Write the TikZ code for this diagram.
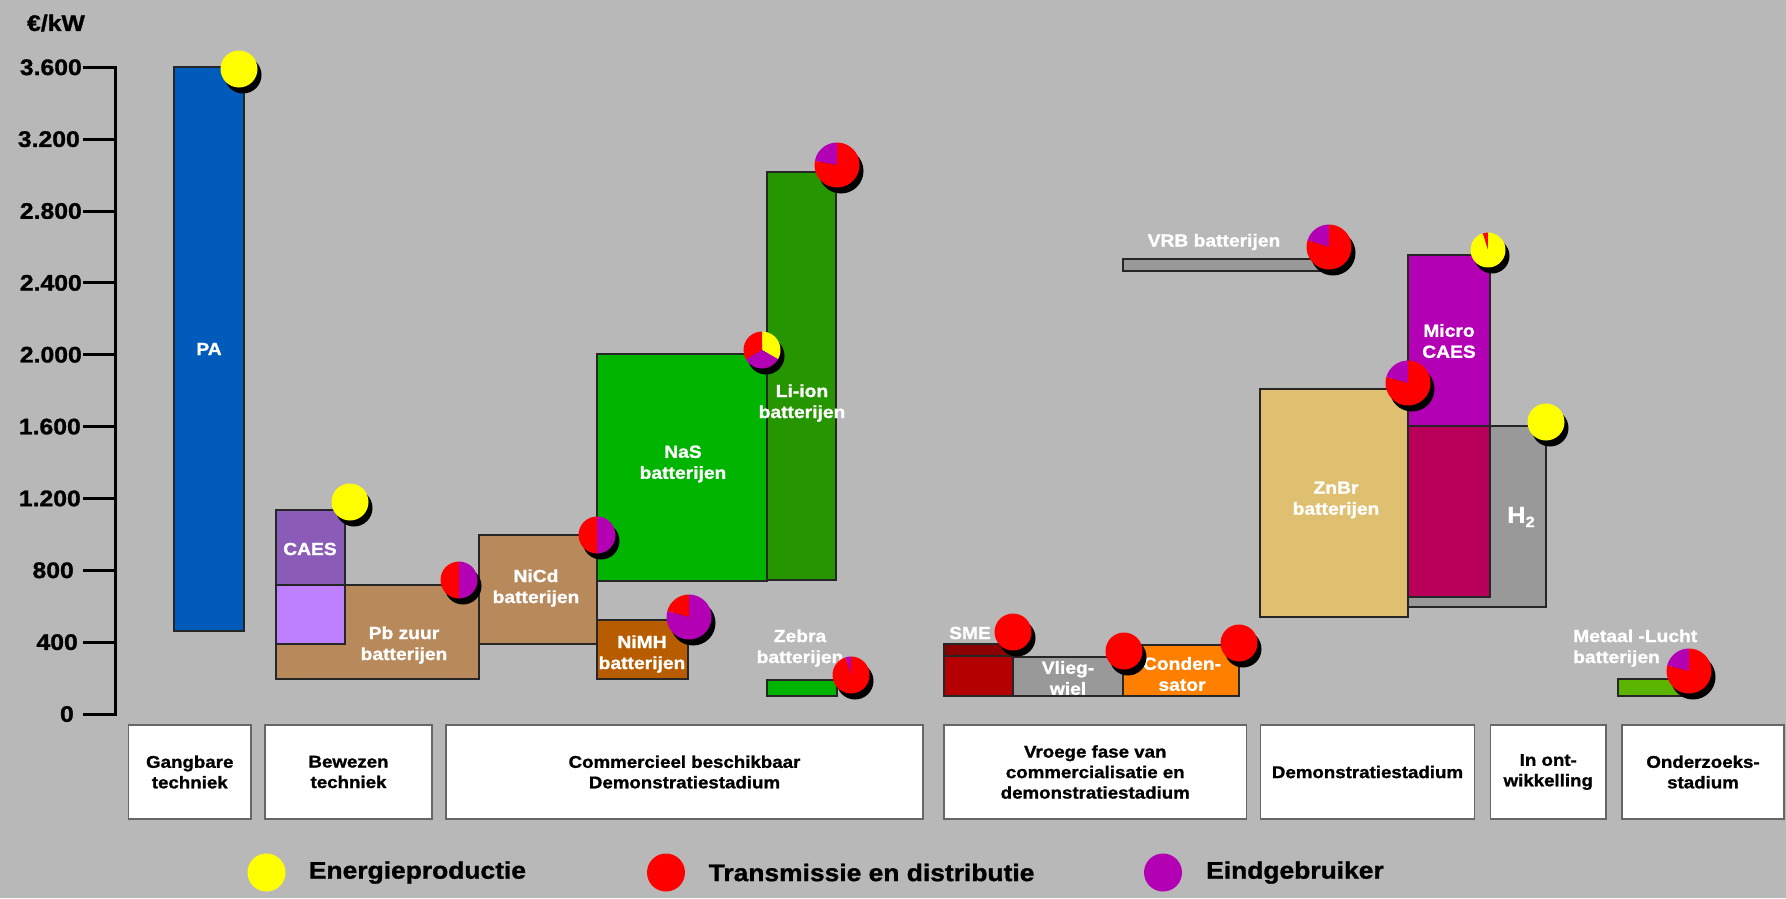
\documentclass[tikz,border=0pt]{standalone}
\usepackage{fontspec}
\setmainfont{Liberation Sans}[FakeStretch=1.1, BoldFeatures={FakeBold=1.2}]
\definecolor{bgc}{HTML}{B8B8B8}
\definecolor{paBlue}{HTML}{005BBB}
\definecolor{caesPurple}{HTML}{8A5CB8}
\definecolor{lightPurple}{HTML}{BF80FF}
\definecolor{brownBar}{HTML}{B8895A}
\definecolor{nimhBar}{HTML}{B85C00}
\definecolor{nasGreen}{HTML}{00B400}
\definecolor{liGreen}{HTML}{259500}
\definecolor{smeDark}{HTML}{8B0000}
\definecolor{smeRed}{HTML}{B40000}
\definecolor{grayBar}{HTML}{999999}
\definecolor{orangeBar}{HTML}{FF8000}
\definecolor{znbrBar}{HTML}{DEC070}
\definecolor{magBar}{HTML}{B400B4}
\definecolor{crimsonBar}{HTML}{B8005A}
\definecolor{metaalBar}{HTML}{5AB400}
\definecolor{pRed}{HTML}{FF0000}
\definecolor{pMag}{HTML}{B400B4}
\definecolor{pYel}{HTML}{FFFF00}
\newcommand\mypie[3]{%
  \fill[black,shift={(4,6)}] (#1) circle[radius=#2];
  \foreach \a/\b/\c in {#3}{%
    \fill[\c] (#1) -- ++({-\a}:#2) arc[start angle={-\a}, end angle={-\b}, radius=#2] -- cycle;}%
}
\begin{document}
\begin{tikzpicture}[x=1pt,y=-1pt,
  bar/.style={draw=black!85, line width=1.2pt},
  lbl/.style={text=white, font=\bfseries\fontsize{17.5}{21}\selectfont, align=center, inner sep=0pt},
  catbox/.style={fill=white, draw=black!60, line width=1.5pt},
  cattext/.style={font=\bfseries\fontsize{17}{20.5}\selectfont, align=center, inner sep=0pt},
  axlbl/.style={font=\bfseries\fontsize{22.5}{24}\selectfont, anchor=east, inner sep=0pt},
  legtext/.style={font=\bfseries\fontsize{24}{26}\selectfont, anchor=west, inner sep=0pt},
  tick/.style={line width=3pt}]
% background
\fill[bgc] (0,0) rectangle (1786,898);
\useasboundingbox (0,0) rectangle (1786,898);

% axis
\node[font=\bfseries\fontsize{22.5}{24}\selectfont, inner sep=0pt] (unit) at (56,23) {€/kW};
\draw[line width=3pt] (115,67.3) -- (115,715.5);
\foreach \v/\lab/\lx in {3600/3.600/82, 3200/3.200/80, 2800/2.800/82, 2400/2.400/82, 2000/2.000/82, 1600/1.600/81, 1200/1.200/81, 800/800/74, 400/400/78, 0/0/74}{
  \draw[tick] (83,{714-\v*0.17964}) -- (116.5,{714-\v*0.17964});
  \node[axlbl] at (\lx,{714-\v*0.17964}) {\lab};
}

% bars
\draw[bar, fill=paBlue] (174,67) rectangle (244,631);
\draw[bar, fill=caesPurple] (276,510) rectangle (345,585);
\draw[bar, fill=brownBar] (276,585) rectangle (479,679);
\draw[bar, fill=lightPurple] (276,585) rectangle (345,644);
\draw[bar, fill=brownBar] (479,535) rectangle (597,644);
\draw[bar, fill=nasGreen] (597,354) rectangle (767,581);
\draw[bar, fill=nimhBar] (597,620) rectangle (688,679);
\draw[bar, fill=liGreen] (767,172) rectangle (836,580);
\draw[bar, fill=nasGreen] (767,680) rectangle (837,696);
\draw[bar, fill=smeRed] (944,656) rectangle (1013,696);
\draw[bar, fill=smeDark] (944,644) rectangle (1013,656);
\draw[bar, fill=grayBar] (1013,657) rectangle (1123,696);
\draw[bar, fill=orangeBar] (1123,645) rectangle (1239,696);
\draw[bar, fill=grayBar] (1123,259) rectangle (1330,271);
\draw[bar, fill=grayBar] (1408,426) rectangle (1546,607);
\draw[bar, fill=znbrBar] (1260,389) rectangle (1408,617);
\draw[bar, fill=crimsonBar] (1408,426) rectangle (1490,597);
\draw[bar, fill=magBar] (1408,255) rectangle (1490,426);
\draw[bar, fill=metaalBar] (1618,679) rectangle (1689,696);

% bar labels
\node[lbl] (pa) at (209,349) {PA};
\node[lbl] (caes) at (310,549) {CAES};
\node[lbl] (pb) at (404,645) {Pb zuur\\batterijen};
\node[lbl] (nicd) at (536,588) {NiCd\\batterijen};
\node[lbl] (nas) at (683,464) {NaS\\batterijen};
\node[lbl] (nimh) at (642,654) {NiMH\\batterijen};
\node[lbl] (liion) at (802,403) {Li-ion\\batterijen};
\node[lbl] (zebra) at (800,648) {Zebra\\batterijen};
\node[lbl] (sme) at (970,633) {SME};
\node[lbl] (vlieg) at (1068,678) {Vlieg-\\wiel};
\node[lbl] (cond) at (1182,674) {Conden-\\sator};
\node[lbl] (vrb) at (1214,242) {VRB batterijen};
\node[lbl] (znbr) at (1336,500) {ZnBr\\batterijen};
\node[lbl] (mcaes) at (1449,341) {Micro\\CAES};
\node[lbl, font=\bfseries\fontsize{23}{26}\selectfont] (h2) at (1521,517) {H\raisebox{-0.35ex}{\fontsize{15}{15}\selectfont 2}};
\node[lbl, align=left, anchor=west] (metaal) at (1573,648) {Metaal -Lucht\\batterijen};

% pies
\mypie{239,69}{18.5}{0/360/pYel}
\mypie{350,502}{18.5}{0/360/pYel}
\mypie{459,580}{18.5}{90/270/pRed,270/450/pMag}
\mypie{597,535}{18.5}{90/270/pRed,270/450/pMag}
\mypie{762,350}{18.5}{-30/90/pYel,90/210/pRed,210/330/pMag}
\mypie{689,617}{22.5}{90/165/pRed,165/450/pMag}
\mypie{837,165}{22.5}{90/170/pMag,170/450/pRed}
\mypie{851,675}{18.5}{90/108/pMag,108/450/pRed}
\mypie{1013,632}{18.5}{0/360/pRed}
\mypie{1124,651}{18.5}{0/360/pRed}
\mypie{1239,643}{18.5}{0/360/pRed}
\mypie{1329,247}{22.5}{90/163/pMag,163/450/pRed}
\mypie{1408,383}{22.5}{90/165/pMag,165/450/pRed}
\mypie{1488,250}{17.5}{90/108/pRed,108/450/pYel}
\mypie{1546,422}{18.5}{0/360/pYel}
\mypie{1689,671}{22.5}{90/166/pMag,166/450/pRed}

% category boxes
\foreach \xa/\xb/\t [count=\i] in {
  128.7/250.8/{Gangbare\\techniek},
  265/432/{Bewezen\\techniek},
  446/923/{Commercieel beschikbaar\\Demonstratiestadium},
  944/1246.5/{Vroege fase van\\commercialisatie en\\demonstratiestadium},
  1260.5/1474.5/{Demonstratiestadium},
  1490.5/1606/{In ont-\\wikkelling},
  1622/1784/{Onderzoeks-\\stadium}}{
  \draw[catbox] (\xa,725) rectangle (\xb,819);
  \node[cattext] (cat\i) at ({(\xa+\xb)/2},772) {\t};
}

% legend
\fill[pYel] (266.5,872.5) circle[radius=19];
\node[legtext] (lg1) at (308.7,872.5) {Energieproductie};
\fill[pRed] (666,872.5) circle[radius=19];
\node[legtext] (lg2) at (708.5,872.5) {Transmissie en distributie};
\fill[pMag] (1163,872.5) circle[radius=19];
\node[legtext] (lg3) at (1206,872.5) {Eindgebruiker};
\end{tikzpicture}
\end{document}
